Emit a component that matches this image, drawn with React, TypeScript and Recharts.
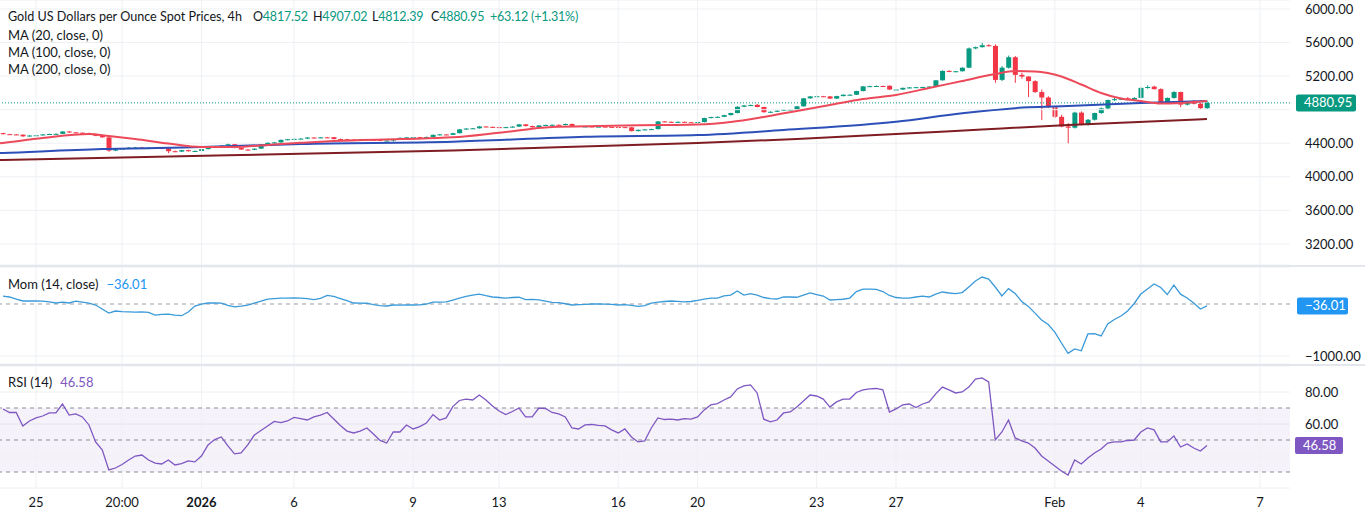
import React from 'react';
import {
  ComposedChart, Bar, Line, XAxis, YAxis, CartesianGrid, ReferenceLine, ReferenceArea,
} from 'recharts';

const FONT = '"Trebuchet MS", Lato, sans-serif';
const TEXT = '#131722';
const GRID = '#eef0f4';
const UP = '#089981';
const DOWN = '#f23645';

// bar index -> date label on the time axis
const TICK_IDX = [5, 18, 30, 44, 62, 75, 93, 105, 123, 135, 159, 172, 190];
const TICK_LABELS = ['25', '20:00', '2026', '6', '9', '13', '16', '20', '23', '27', 'Feb', '4', '7'];

// labelled scale levels (4800 and 40 sit under the last-value tags, grid only)
const PRICE_TICKS = [3200, 3600, 4000, 4400, 5200, 5600, 6000];
const PRICE_GRID_ONLY = [4800];
const MOM_TICKS = [-1000];
const RSI_TICKS = [60, 80];
const RSI_GRID_ONLY = [40];

// 4h candles: [open, high, low, close]
const CANDLES: [number, number, number, number][] = [
  [4520, 4526, 4504, 4508], [4508, 4512, 4500, 4505], [4505, 4509, 4498, 4502], [4502, 4505, 4478, 4482], [4482, 4495, 4478, 4492],
  [4492, 4500, 4488, 4495], [4495, 4508, 4492, 4505], [4505, 4514, 4501, 4510], [4510, 4518, 4506, 4512], [4512, 4545, 4510, 4540],
  [4540, 4546, 4526, 4530], [4530, 4534, 4520, 4525], [4525, 4530, 4518, 4522], [4522, 4527, 4506, 4510], [4510, 4514, 4484, 4488],
  [4488, 4492, 4465, 4470], [4470, 4476, 4298, 4312], [4312, 4334, 4306, 4330], [4330, 4340, 4324, 4335], [4335, 4352, 4330, 4348],
  [4348, 4356, 4342, 4350], [4350, 4356, 4340, 4345], [4345, 4352, 4340, 4348], [4348, 4352, 4338, 4343], [4343, 4347, 4335, 4340],
  [4340, 4344, 4282, 4305], [4305, 4312, 4294, 4300], [4300, 4322, 4296, 4318], [4318, 4322, 4300, 4305], [4305, 4314, 4300, 4308],
  [4308, 4334, 4304, 4330], [4330, 4364, 4326, 4360], [4360, 4368, 4354, 4362], [4362, 4376, 4358, 4372], [4372, 4394, 4368, 4388],
  [4388, 4392, 4340, 4345], [4345, 4350, 4320, 4325], [4325, 4330, 4316, 4322], [4322, 4340, 4318, 4335], [4335, 4390, 4332, 4385],
  [4385, 4410, 4380, 4405], [4405, 4415, 4400, 4410], [4410, 4445, 4406, 4440], [4440, 4452, 4436, 4448], [4448, 4456, 4442, 4452],
  [4452, 4460, 4447, 4455], [4455, 4472, 4450, 4468], [4468, 4472, 4460, 4465], [4465, 4474, 4461, 4470], [4470, 4476, 4462, 4468],
  [4472, 4476, 4446, 4450], [4450, 4455, 4443, 4448], [4448, 4452, 4440, 4445], [4445, 4449, 4437, 4442], [4442, 4450, 4438, 4445],
  [4445, 4448, 4436, 4440], [4440, 4444, 4433, 4438], [4440, 4445, 4426, 4430], [4430, 4436, 4426, 4432], [4432, 4454, 4420, 4450],
  [4450, 4468, 4446, 4465], [4465, 4474, 4460, 4470], [4470, 4476, 4465, 4472], [4472, 4476, 4463, 4468], [4468, 4479, 4464, 4475],
  [4475, 4504, 4472, 4500], [4500, 4509, 4496, 4505], [4505, 4508, 4496, 4500], [4500, 4524, 4497, 4520], [4520, 4569, 4516, 4565],
  [4565, 4579, 4560, 4575], [4575, 4582, 4570, 4578], [4578, 4604, 4574, 4600], [4600, 4604, 4590, 4595], [4595, 4599, 4588, 4592],
  [4592, 4596, 4586, 4590], [4590, 4596, 4586, 4592], [4592, 4602, 4588, 4598], [4598, 4630, 4594, 4625], [4625, 4628, 4600, 4605],
  [4605, 4609, 4586, 4590], [4590, 4616, 4587, 4612], [4612, 4622, 4608, 4618], [4618, 4624, 4614, 4620], [4620, 4624, 4613, 4618],
  [4618, 4634, 4612, 4630], [4630, 4634, 4600, 4605], [4605, 4608, 4594, 4598], [4598, 4604, 4594, 4600], [4600, 4604, 4592, 4596],
  [4596, 4602, 4592, 4598], [4598, 4601, 4590, 4595], [4595, 4599, 4590, 4594], [4594, 4597, 4588, 4592], [4592, 4595, 4586, 4590],
  [4590, 4594, 4540, 4545], [4545, 4564, 4540, 4560], [4560, 4569, 4556, 4565], [4565, 4572, 4561, 4568], [4568, 4664, 4565, 4660],
  [4660, 4664, 4650, 4655], [4655, 4659, 4647, 4652], [4652, 4660, 4648, 4655], [4655, 4658, 4645, 4650], [4650, 4654, 4643, 4648],
  [4648, 4657, 4644, 4652], [4652, 4704, 4648, 4700], [4700, 4716, 4696, 4712], [4712, 4720, 4708, 4715], [4715, 4739, 4711, 4735],
  [4735, 4764, 4731, 4760], [4760, 4840, 4756, 4835], [4835, 4855, 4830, 4850], [4850, 4862, 4845, 4855], [4858, 4866, 4828, 4832],
  [4832, 4836, 4764, 4770], [4770, 4780, 4765, 4775], [4775, 4792, 4771, 4788], [4788, 4804, 4784, 4800], [4800, 4806, 4795, 4802],
  [4802, 4845, 4798, 4840], [4840, 4940, 4836, 4935], [4935, 4962, 4930, 4958], [4958, 4966, 4954, 4960], [4960, 4964, 4952, 4958],
  [4958, 4963, 4928, 4932], [4932, 4966, 4928, 4962], [4962, 4982, 4958, 4978], [4978, 4984, 4972, 4978], [4978, 5026, 4974, 5022],
  [5022, 5082, 5018, 5078], [5078, 5086, 5072, 5080], [5080, 5088, 5074, 5082], [5082, 5086, 5075, 5080], [5085, 5090, 5035, 5040],
  [5040, 5046, 5034, 5040], [5040, 5064, 5036, 5060], [5060, 5069, 5055, 5065], [5065, 5072, 5060, 5068], [5068, 5074, 5062, 5070],
  [5070, 5080, 5066, 5075], [5075, 5155, 5070, 5150], [5150, 5268, 5145, 5262], [5262, 5270, 5246, 5250], [5250, 5262, 5246, 5258],
  [5258, 5305, 5254, 5300], [5300, 5540, 5295, 5530], [5530, 5552, 5520, 5545], [5545, 5595, 5540, 5568], [5568, 5580, 5552, 5560],
  [5560, 5578, 5120, 5155], [5155, 5320, 5140, 5300], [5300, 5445, 5290, 5425], [5425, 5440, 5120, 5215], [5215, 5240, 5170, 5195],
  [5195, 5200, 4950, 5140], [5140, 5150, 5000, 5010], [5010, 5040, 4675, 4945], [4945, 4960, 4820, 4830], [4830, 4840, 4700, 4715],
  [4715, 4740, 4590, 4600], [4600, 4640, 4400, 4585], [4585, 4775, 4575, 4765], [4765, 4780, 4615, 4625], [4625, 4690, 4610, 4680],
  [4680, 4765, 4670, 4760], [4760, 4825, 4750, 4815], [4815, 4920, 4805, 4915], [4915, 4960, 4905, 4925], [4925, 4945, 4915, 4930],
  [4935, 4950, 4910, 4920], [4920, 4948, 4912, 4940], [4940, 5065, 4935, 5060], [5060, 5090, 5050, 5070], [5075, 5085, 5040, 5045],
  [5045, 5055, 4885, 4890], [4890, 4945, 4880, 4940], [4940, 5020, 4930, 5010], [5010, 5015, 4830, 4860], [4860, 4900, 4850, 4890],
  [4905, 4915, 4862, 4870], [4870, 4880, 4810, 4818], [4817.52, 4907.02, 4812.39, 4880.95],
];

// moving averages as [bar index, value]; index -1 is the bar just left of the view
const MA20: [number, number][] = [
  [-1, 4394], [0, 4403], [6, 4462], [13, 4510], [16, 4486], [20, 4450], [25, 4397], [30, 4355], [35, 4355], [40, 4380],
  [45, 4405], [50, 4427], [60, 4450], [68, 4470], [75, 4525], [83, 4594], [90, 4606], [100, 4617], [105, 4623],
  [110, 4653], [115, 4713], [120, 4784], [125, 4856], [130, 4927], [135, 4975], [140, 5058], [145, 5142],
  [150, 5225], [153, 5261], [156, 5255], [160, 5195], [163, 5100], [166, 4999], [169, 4933], [172, 4903],
  [175, 4874], [178, 4880], [182, 4903],
];
const MA100: [number, number][] = [
  [-1, 4281], [0, 4284], [15, 4331], [30, 4355], [45, 4391], [68, 4418], [88, 4478], [105, 4498], [118, 4558],
  [135, 4655], [145, 4757], [155, 4829], [161, 4844], [172, 4880], [182, 4903],
];
const MA200: [number, number][] = [
  [-1, 4198], [0, 4200], [34, 4257], [68, 4314], [85, 4355], [105, 4403], [120, 4450], [135, 4510], [148, 4564],
  [161, 4617], [182, 4689],
];

const MOM = [
  150, 135, 95, 58, 60, 58, 55, 40, 20, 38,
  20, 55, 35, 15, -19, -95, -173, -135, -145, -150,
  -155, -150, -160, -212, -200, -195, -215, -225, -155, -40,
  0, 19, 20, 18, -25, -55, -40, -20, 19, 55,
  96, 105, 115, 115, 118, 115, 105, 85, 110, 165,
  145, 105, 65, 19, 18, 15, -10, -30, -38, -19,
  -20, -18, -19, -18, 0, 38, 38, 40, 77, 115,
  145, 173, 190, 160, 135, 125, 115, 125, 130, 85,
  90, 80, 55, 30, 28, 5, -19, -10, -8, 0,
  0, -2, -8, -19, -10, -25, -45, -30, 15, 38,
  48, 58, 50, 40, 48, 68, 96, 115, 115, 155,
  173, 250, 173, 200, 173, 125, 105, 96, 135, 135,
  130, 173, 212, 182, 154, 77, 85, 92, 115, 240,
  288, 288, 280, 240, 165, 125, 115, 115, 135, 150,
  135, 190, 231, 212, 200, 220, 327, 442, 519, 480,
  327, 154, 296, 202, 46, -46, -175, -308, -395, -540,
  -750, -950, -865, -900, -575, -570, -615, -385, -298, -230,
  -135, 10, 192, 288, 385, 317, 182, 365, 190, 115,
  20, -96, -36.01,
];

const RSI = [
  69.4, 67.2, 67.2, 58.8, 61.9, 63.8, 65, 66.9, 66.9, 72.5,
  65.6, 66.3, 64.4, 59.4, 48.8, 43.8, 31.3, 32.5, 34.7, 37.5,
  40, 40.6, 37.5, 35.6, 35, 37.5, 34.4, 35.2, 36.9, 36.3,
  40, 46.9, 50.3, 51.9, 46.3, 41.3, 41.9, 46.9, 53.1, 55.9,
  58.8, 61.6, 60.9, 61.9, 64.1, 63.4, 62.5, 64.4, 65.6, 67.2,
  63.1, 59.1, 55.6, 54.4, 55.6, 57.5, 53.8, 49.7, 48.1, 55,
  55, 59.4, 56.9, 58.4, 60.6, 65.9, 62.5, 63.8, 70.9, 74.7,
  75.6, 75, 78.1, 75, 71.3, 68.1, 65.9, 67.8, 70, 64.4,
  64.4, 70, 69.7, 67.2, 66.3, 64.4, 57.5, 56.9, 59.4, 59.7,
  59.1, 58.8, 56.3, 54.4, 56.9, 51.9, 48.8, 49.4, 57.5, 63.8,
  62.8, 63.1, 62.5, 63.4, 63.1, 64.4, 68.8, 71.9, 72.8, 75,
  76.9, 81.9, 83.8, 84.4, 79.4, 63, 61.3, 62.5, 66.9, 67.5,
  70.6, 74.4, 78.1, 77.5, 75.6, 70.6, 73.8, 75.6, 75.6, 79.7,
  81.3, 81.9, 82.2, 81.3, 67.5, 69.4, 71.9, 72.5, 70.3, 72.5,
  73.8, 78.8, 83.1, 81.3, 79.4, 80, 83.1, 88.1, 88.8, 86.3,
  50, 55, 62.5, 51.3, 49.4, 48.1, 45, 40, 36.9, 33.8,
  30.6, 28.1, 37.5, 35, 38.8, 41.9, 44.4, 48.1, 48.8, 48.8,
  49.7, 50, 55, 57.5, 56.3, 48.8, 48.8, 52.5, 45.6, 47.5,
  45, 43.1, 46.58,
];

const LAST_PRICE = 4880.95;
const LAST_MOM = -36.01;
const LAST_RSI = 46.58;

const X_DOMAIN: [number, number] = [-0.45, 194.55];

const rows = CANDLES.map(([o, h, l, c], i) => ({
  i, o, h, l, c,
  range: [l, h],
  mom: MOM[i],
  rsi: RSI[i],
}));
const toRows = (pts: [number, number][]) => pts.map(([i, v]) => ({ i, v }));
const ma20Rows = toRows(MA20);
const ma100Rows = toRows(MA100);
const ma200Rows = toRows(MA200);

const fmt2 = (v: number) => (v < 0 ? '\u2212' + Math.abs(v).toFixed(2) : v.toFixed(2));

function Candle(props: any) {
  const { x, y, width, height, payload } = props;
  if (!payload || x == null) return null;
  const { o, h, l, c } = payload;
  const top = Math.min(y, y + height);
  const bot = Math.max(y, y + height);
  const span = h - l || 1;
  const py = (p: number) => top + ((h - p) / span) * (bot - top);
  const color = c >= o ? UP : DOWN;
  const cx = x + width / 2;
  const bTop = py(Math.max(o, c));
  const bBot = py(Math.min(o, c));
  return (
    <g>
      <line x1={cx} x2={cx} y1={top} y2={bot} stroke={color} strokeWidth={1} />
      <rect x={x} y={bTop} width={width} height={Math.max(1, bBot - bTop)} fill={color} />
    </g>
  );
}

function ValueTag(props: any) {
  const { viewBox, text, color, w, dx } = props;
  if (!viewBox) return null;
  const x0 = viewBox.x + viewBox.width + dx;
  return (
    <g>
      <rect x={x0} y={viewBox.y - 8.5} width={w} height={17} rx={2} fill={color} />
      <text x={x0 + 8} y={viewBox.y + 4.5} fill="#fff" fontSize={13} fontFamily={FONT}>{text}</text>
    </g>
  );
}

function DateTick(props: any) {
  const { x, y, payload } = props;
  const label = TICK_LABELS[TICK_IDX.indexOf(payload.value)];
  return (
    <text x={x} y={y + 19} textAnchor="middle" fontSize={13} fill={TEXT} fontFamily={FONT}
      fontWeight={label === '2026' ? 700 : 400}>
      {label}
    </text>
  );
}

const yTick = { fontSize: 13, fill: TEXT, fontFamily: FONT };
const margin = { top: 0, right: 0, bottom: 0, left: 0 };
const legendRow = { position: 'absolute' as const, fontSize: 13, lineHeight: '17px', whiteSpace: 'nowrap' as const };
const ohlcItem = { position: 'absolute' as const, top: 0, fontSize: 12.5, letterSpacing: -0.2 };

export default function App() {
  const vlines = TICK_IDX.map(t => <ReferenceLine key={'v' + t} x={t} stroke={GRID} strokeWidth={1} />);
  return (
    <div style={{ position: 'absolute', left: 0, top: 0, width: 1365, height: 515, background: '#fff', fontFamily: FONT, overflow: 'hidden', color: TEXT }}>
      {/* price pane */}
      <ComposedChart width={1365} height={265} data={rows} margin={margin}>
        <XAxis type="number" dataKey="i" domain={X_DOMAIN} allowDataOverflow hide />
        <YAxis orientation="right" width={75} domain={[2949, 6107]} allowDataOverflow ticks={PRICE_TICKS}
          tickFormatter={fmt2} axisLine={false} tickLine={false} tickSize={0} tickMargin={15} tick={yTick} />
        <CartesianGrid vertical={false} stroke={GRID} />
        {PRICE_GRID_ONLY.map(v => <ReferenceLine key={'h' + v} y={v} stroke={GRID} />)}
        {vlines}
        <ReferenceLine y={LAST_PRICE} stroke={UP} strokeDasharray="1 2"
          label={<ValueTag text="4880.95" color={UP} w={60} dx={6} />} />
        <Bar dataKey="range" barSize={5} shape={(p: any) => <Candle {...p} />} isAnimationActive={false} />
        <Line data={ma200Rows} dataKey="v" type="monotone" stroke="#7f1d22" strokeWidth={2} dot={false} activeDot={false} isAnimationActive={false} />
        <Line data={ma100Rows} dataKey="v" type="monotone" stroke="#2c4fb8" strokeWidth={2} dot={false} activeDot={false} isAnimationActive={false} />
        <Line data={ma20Rows} dataKey="v" type="monotone" stroke="#ec4a5a" strokeWidth={2} dot={false} activeDot={false} isAnimationActive={false} />
      </ComposedChart>
      <div style={{ height: 2, background: '#e3e6ec' }} />

      {/* momentum pane */}
      <ComposedChart width={1365} height={97} data={rows} margin={margin}>
        <XAxis type="number" dataKey="i" domain={X_DOMAIN} allowDataOverflow hide />
        <YAxis orientation="right" width={75} domain={[-1154, 712]} allowDataOverflow ticks={MOM_TICKS}
          tickFormatter={fmt2} axisLine={false} tickLine={false} tickSize={0} tickMargin={15} tick={yTick} />
        <CartesianGrid vertical={false} stroke={GRID} />
        {vlines}
        <ReferenceLine y={0} stroke="#9a9da6" strokeDasharray="4 4" />
        <ReferenceLine y={LAST_MOM} stroke="none"
          label={<ValueTag text={fmt2(LAST_MOM)} color="#2196f3" w={51} dx={7} />} />
        <Line dataKey="mom" type="linear" stroke="#3a9ad9" strokeWidth={1.3} dot={false} activeDot={false} isAnimationActive={false} />
      </ComposedChart>
      <div style={{ height: 2, background: '#e3e6ec' }} />

      {/* RSI pane */}
      <ComposedChart width={1365} height={149} data={rows} margin={margin}>
        <XAxis type="number" dataKey="i" domain={X_DOMAIN} allowDataOverflow ticks={TICK_IDX} interval={0}
          height={27} axisLine={false} tickLine={false} tickSize={0} tickMargin={0} tick={<DateTick />} />
        <YAxis orientation="right" width={75} domain={[20, 96.25]} allowDataOverflow ticks={RSI_TICKS}
          tickFormatter={fmt2} axisLine={false} tickLine={false} tickSize={0} tickMargin={15} tick={yTick} />
        <CartesianGrid vertical={false} stroke={GRID} />
        {RSI_GRID_ONLY.map(v => <ReferenceLine key={'h' + v} y={v} stroke={GRID} />)}
        {vlines}
        <ReferenceArea y1={30} y2={70} fill="#7e57c2" fillOpacity={0.08} stroke="none" />
        <ReferenceLine y={70} stroke="#8a8d96" strokeDasharray="4 4" />
        <ReferenceLine y={50} stroke="#8a8d96" strokeDasharray="4 4" />
        <ReferenceLine y={30} stroke="#8a8d96" strokeDasharray="4 4" />
        <ReferenceLine y={LAST_RSI} stroke="none"
          label={<ValueTag text={LAST_RSI.toFixed(2)} color="#7e57c2" w={48} dx={5} />} />
        <Line dataKey="rsi" type="linear" stroke="#7e57c2" strokeWidth={1.3} dot={false} activeDot={false} isAnimationActive={false} />
      </ComposedChart>

      {/* pane legends */}
      <div style={{ ...legendRow, left: 0, top: 8, width: 620, height: 17 }}>
        <span style={{ position: 'absolute', left: 8, top: 0, fontSize: 12.6 }}>Gold US Dollars per Ounce Spot Prices, 4h</span>
        <span style={{ ...ohlcItem, left: 253 }}>O<span style={{ color: UP }}>4817.52</span></span>
        <span style={{ ...ohlcItem, left: 313 }}>H<span style={{ color: UP }}>4907.02</span></span>
        <span style={{ ...ohlcItem, left: 372 }}>L<span style={{ color: UP }}>4812.39</span></span>
        <span style={{ ...ohlcItem, left: 431 }}>C<span style={{ color: UP }}>4880.95</span></span>
        <span style={{ ...ohlcItem, left: 490, color: UP }}>+63.12 (+1.31%)</span>
      </div>
      <div style={{ ...legendRow, left: 8, top: 27 }}>MA (20, close, 0)</div>
      <div style={{ ...legendRow, left: 8, top: 44 }}>MA (100, close, 0)</div>
      <div style={{ ...legendRow, left: 8, top: 61 }}>MA (200, close, 0)</div>
      <div style={{ ...legendRow, left: 8, top: 276 }}>
        Mom (14, close)<span style={{ marginLeft: 8, color: '#2196f3' }}>{fmt2(LAST_MOM)}</span>
      </div>
      <div style={{ ...legendRow, left: 8, top: 374 }}>
        RSI (14)<span style={{ marginLeft: 8, color: '#7e57c2' }}>{LAST_RSI.toFixed(2)}</span>
      </div>
    </div>
  );
}
